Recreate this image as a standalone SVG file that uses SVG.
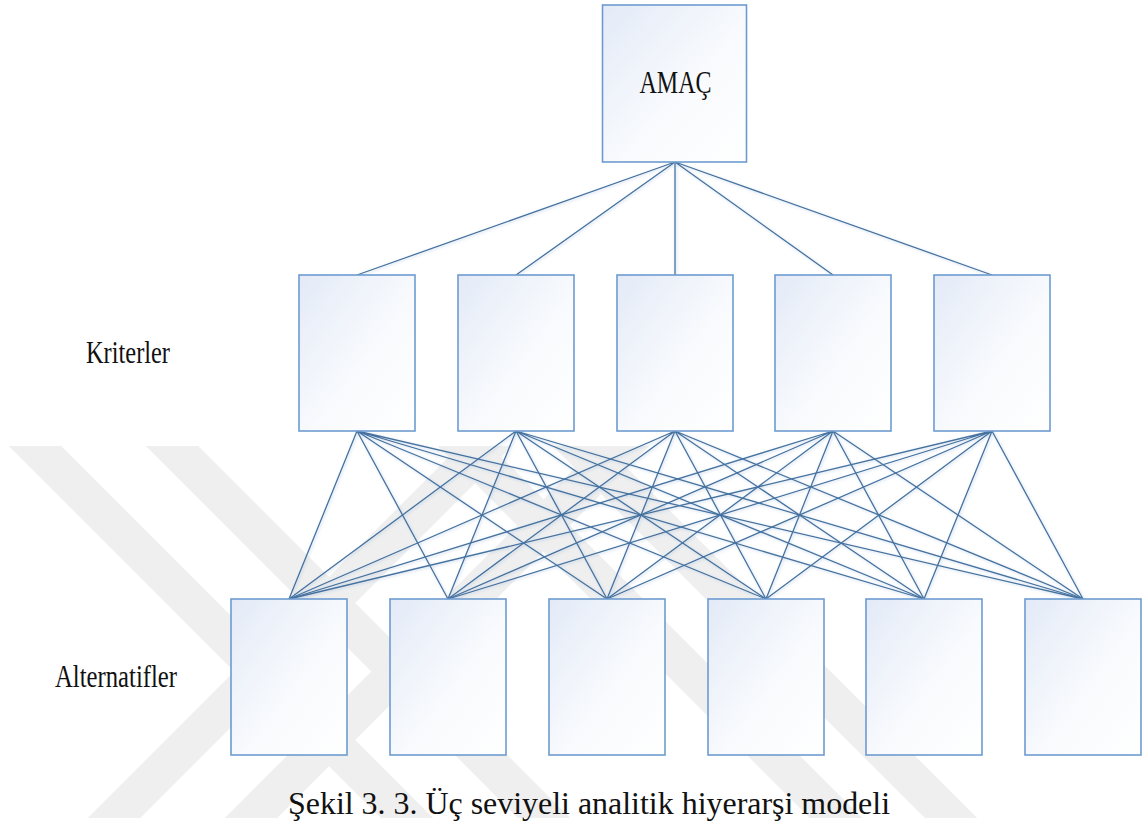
<svg xmlns="http://www.w3.org/2000/svg" width="1142" height="833" viewBox="0 0 1142 833">
  <style>
    .box { stroke: #6d9bd0; stroke-width: 1.6; fill: url(#boxFill); }
    .wire { stroke: #45729f; stroke-width: 1.3; fill: none; }
    .lbl { font-family: "Liberation Serif", "Times New Roman", serif; font-size: 31px; fill: #111; }
    .cap { font-family: "Liberation Serif", "Times New Roman", serif; font-size: 32px; fill: #111; }
    .mark { fill: none; stroke: #efefef; stroke-width: 37; }
  </style>
  <defs>
    <linearGradient id="boxFill" x1="0" y1="0" x2="1" y2="1">
      <stop offset="0" stop-color="#e3eaf7"/>
      <stop offset="0.55" stop-color="#f8fafd"/>
      <stop offset="1" stop-color="#ffffff"/>
    </linearGradient>
    <filter id="wireGlow" x="-2%" y="-2%" width="104%" height="104%">
      <feGaussianBlur in="SourceAlpha" stdDeviation="1.6" result="blur"/>
      <feOffset in="blur" dx="0.5" dy="1.2" result="off"/>
      <feFlood flood-color="#8fb0d8" flood-opacity="0.5"/>
      <feComposite in2="off" operator="in" result="shadow"/>
      <feMerge>
        <feMergeNode in="shadow"/>
        <feMergeNode in="SourceGraphic"/>
      </feMerge>
    </filter>
    <clipPath id="markClip">
      <rect x="0" y="446" width="1142" height="372"/>
    </clipPath>
  </defs>

  <rect width="1142" height="833" fill="#ffffff"/>

  <!-- faint diagonal background mark -->
  <g id="backmark" class="mark" clip-path="url(#markClip)">
    <path d="M6 417 L436 847 M143 417 L573 847"/>
    <path d="M85 847 L515 417 M222 847 L652 417"/>
    <path d="M435 417 L865 847 M550 417 L980 847"/>
  </g>

  <!-- connectors -->
  <g id="connectors" class="wire" filter="url(#wireGlow)">
    <!-- goal to criteria -->
    <path d="M675 162 L357 275 M675 162 L516 275 M675 162 L675 275 M675 162 L833 275 M675 162 L992 275"/>
    <!-- criteria to alternatives -->
    <path d="M357 431 L289 599 M357 431 L448 599 M357 431 L607 599 M357 431 L766 599 M357 431 L924 599 M357 431 L1083 599"/>
    <path d="M516 431 L289 599 M516 431 L448 599 M516 431 L607 599 M516 431 L766 599 M516 431 L924 599 M516 431 L1083 599"/>
    <path d="M675 431 L289 599 M675 431 L448 599 M675 431 L607 599 M675 431 L766 599 M675 431 L924 599 M675 431 L1083 599"/>
    <path d="M833 431 L289 599 M833 431 L448 599 M833 431 L607 599 M833 431 L766 599 M833 431 L924 599 M833 431 L1083 599"/>
    <path d="M992 431 L289 599 M992 431 L448 599 M992 431 L607 599 M992 431 L766 599 M992 431 L924 599 M992 431 L1083 599"/>
  </g>

  <!-- goal -->
  <g id="goal">
    <rect class="box" x="602.5" y="5" width="144" height="157"/>
    <text class="lbl" x="639.5" y="93" textLength="72" lengthAdjust="spacingAndGlyphs">AMAÇ</text>
  </g>

  <!-- criteria -->
  <g id="criteria-label">
    <text class="lbl" x="86" y="363" textLength="84" lengthAdjust="spacingAndGlyphs">Kriterler</text>
  </g>
  <g id="criterion-1"><rect class="box" x="299" y="275" width="116" height="156"/></g>
  <g id="criterion-2"><rect class="box" x="458" y="275" width="116" height="156"/></g>
  <g id="criterion-3"><rect class="box" x="617" y="275" width="116" height="156"/></g>
  <g id="criterion-4"><rect class="box" x="775" y="275" width="116" height="156"/></g>
  <g id="criterion-5"><rect class="box" x="934" y="275" width="116" height="156"/></g>

  <!-- alternatives -->
  <g id="alternatives-label">
    <text class="lbl" x="55" y="687" textLength="122" lengthAdjust="spacingAndGlyphs">Alternatifler</text>
  </g>
  <g id="alternative-1"><rect class="box" x="231" y="599" width="116" height="156"/></g>
  <g id="alternative-2"><rect class="box" x="390" y="599" width="116" height="156"/></g>
  <g id="alternative-3"><rect class="box" x="549" y="599" width="116" height="156"/></g>
  <g id="alternative-4"><rect class="box" x="708" y="599" width="116" height="156"/></g>
  <g id="alternative-5"><rect class="box" x="866" y="599" width="116" height="156"/></g>
  <g id="alternative-6"><rect class="box" x="1025" y="599" width="116" height="156"/></g>

  <!-- caption -->
  <text class="cap" x="288" y="814" textLength="602" lengthAdjust="spacingAndGlyphs">Şekil 3. 3. Üç seviyeli analitik hiyerarşi modeli</text>
</svg>
